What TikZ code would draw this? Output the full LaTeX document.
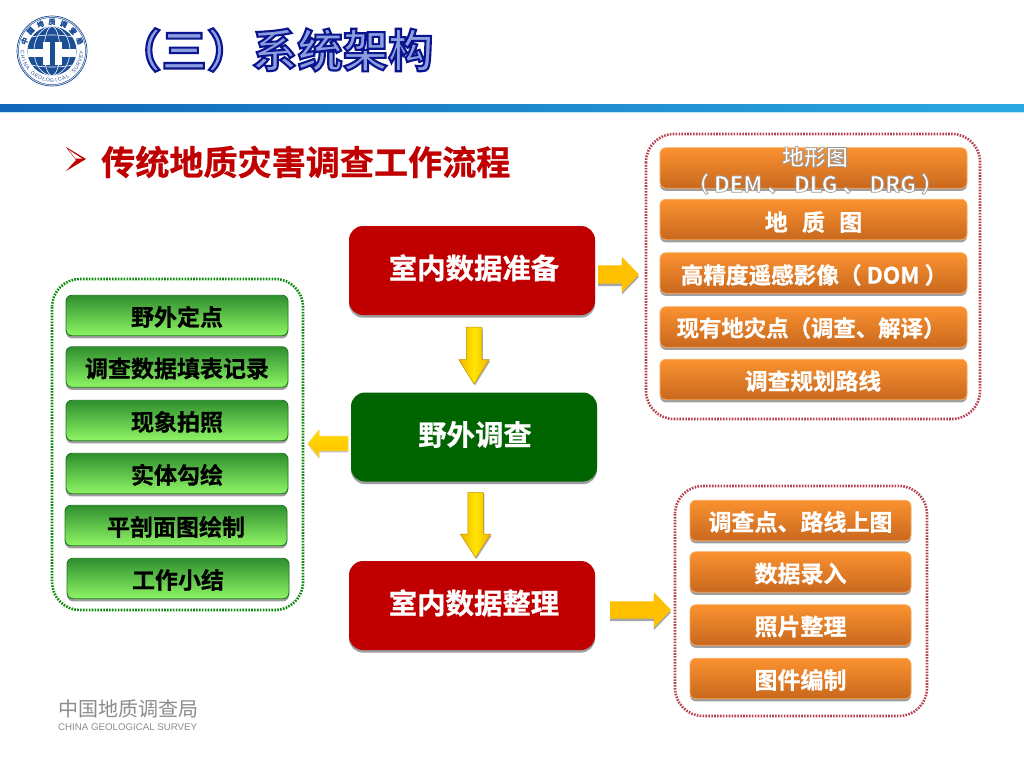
\documentclass[tikz,border=0pt]{standalone}
\usepackage{fontspec}
\setmainfont{Noto Sans CJK SC}[BoldFont={Noto Sans CJK SC Bold},BoldFeatures={FakeBold=0.7}]
\newfontfamily\titlefont{Noto Sans CJK SC Bold}
\newfontfamily\latinfont{Liberation Sans}
\usetikzlibrary{shapes.arrows,shadows,calc}
\definecolor{navy}{HTML}{0F1F96}
\definecolor{barl}{HTML}{1266B8}
\definecolor{barr}{HTML}{2BA9E0}
\definecolor{crimson}{HTML}{C00000}
\definecolor{forest}{HTML}{006400}
\definecolor{orangetop}{HTML}{FB9230}
\definecolor{orangebot}{HTML}{C8681E}
\definecolor{greentop}{HTML}{2F8F2F}
\definecolor{greenbot}{HTML}{8FF565}
\definecolor{greenline}{HTML}{1E7A1E}
\definecolor{dotred}{HTML}{B8404E}
\definecolor{dotgreen}{HTML}{0A8A0A}
\definecolor{amber}{HTML}{FFC000}
\definecolor{goldedge}{HTML}{F0B400}
\definecolor{goldmid}{HTML}{FFE600}
\definecolor{logoblue}{HTML}{1C4E96}
\definecolor{footgray}{HTML}{8C8C8C}
\tikzset{
  softshadow/.style={drop shadow={shadow xshift=0pt,shadow yshift=-2.6pt,fill=black,opacity=.38}},
  boxbase/.style={rounded corners=6pt,inner sep=0pt,outer sep=0pt,font=\fontsize{23}{27}\selectfont\bfseries,softshadow,text height=22pt,text depth=1.6pt},
  orangebox/.style={boxbase,top color=orangetop,bottom color=orangebot,draw=orangetop!80!white,line width=.8pt,text=white,minimum width=307pt,minimum height=40.5pt},
  lowbox/.style={orangebox,minimum width=221pt},
  greenbox/.style={boxbase,top color=greentop,bottom color=greenbot,draw=greenline,line width=.9pt,text=black,minimum width=222pt,minimum height=40.5pt},
  mainbox/.style={rounded corners=14pt,inner sep=0pt,outer sep=0pt,minimum width=246pt,minimum height=89pt,text=white,font=\fontsize{28.4}{32}\selectfont\bfseries,softshadow,text height=20pt,text depth=3.4pt},
  redbox/.style={mainbox,fill=crimson},
  darkgreenbox/.style={mainbox,fill=forest},
  dotframe/.style={rounded corners=28pt,line width=2.6pt,dash pattern=on 1.6pt off 1.3pt},
  blockarrow/.style n args={4}{single arrow,inner sep=0pt,outer sep=0pt,text width=#1pt,text height=#1pt,text depth=0pt,
     minimum height=#3pt,minimum width=#2pt,single arrow head extend={(#2-#1)/2*1pt},single arrow head indent=0pt,single arrow tip angle=#4,anchor=tail},
  flatarrow/.style={fill=amber,drop shadow={shadow xshift=0pt,shadow yshift=-2.4pt,fill=black,opacity=.35}},
  goldarrow/.style={left color=goldedge,right color=goldedge,middle color=goldmid,draw=goldedge!80!black,line width=.5pt,drop shadow={shadow xshift=1pt,shadow yshift=-1.5pt,fill=black,opacity=.3}},
  leftarrow/.style={top color=goldmid!70!amber,bottom color=amber,draw=amber!70!white,line width=.6pt,drop shadow={shadow xshift=0pt,shadow yshift=-1.5pt,fill=black,opacity=.25}},
}
\begin{document}
\begin{tikzpicture}[x=1pt,y=-1pt]
\useasboundingbox (0,0) rectangle (1024,768);
\fill[white] (0,0) rectangle (1024,768);

% logo
\fill[white] (52,51) circle (35);
\draw[logoblue,line width=.7pt] (52,51) circle (35);
\draw[logoblue,line width=.5pt] (52,51) circle (33.6);
\fill[logoblue] (52,51) circle (24.5);
\begin{scope}
\clip (52,51) circle (24.5);
\draw[white,line width=.6pt] (52,51) ellipse (18 and 24.5);
\draw[white,line width=.6pt] (52,51) ellipse (8 and 24.5);
\draw[white,line width=.6pt] (28,38) .. controls (40,34) and (64,34) .. (76,38);
\draw[white,line width=.6pt] (28,64) .. controls (40,68) and (64,68) .. (76,64);
\fill[white] (28,49) rectangle (77,57);
\fill[white] (43,42) rectangle (50,65);
\fill[white] (55,42) rectangle (62,65);
\fill[logoblue] (50,40) rectangle (55,66);
\end{scope}
\foreach \ch [count=\i] in {中,国,地,质,调,查,局}{
  \pgfmathsetmacro{\a}{160-(\i-1)*23.33}
  \node[logoblue,inner sep=0pt,font=\fontsize{7}{7}\selectfont\bfseries,rotate=\a-90] (logot\i) at ({52+29.3*cos(\a)},{51-29.3*sin(\a)}) {\ch};
}
\foreach \ch [count=\i] in {C,H,I,N,A,{},G,E,O,L,O,G,I,C,A,L,{},S,U,R,V,E,Y}{
  \pgfmathsetmacro{\a}{183+(\i-1)*7.9}
  \node[logoblue,inner sep=0pt,font=\latinfont\fontsize{5.2}{5.2}\selectfont,rotate=\a+90] (logob\i) at ({52+29.5*cos(\a)},{51-29.5*sin(\a)}) {\ch};
}

% title
\node[anchor=west,inner sep=0pt,text=navy,font=\titlefont\fontsize{45.3}{50}\selectfont] (title) at (116,50)
  {\special{pdf:code q 2 Tr 2.1 w 0.04 0.08 0.55 RG 0.55 0.62 0.88 rg}（三）系统架构\special{pdf:code Q}};

% header bar
\fill[left color=barl,right color=barr] (0,104) rectangle (1024,111.6);
\fill[barr!30!white] (0,111.6) rectangle (1024,112.6);

% heading
\fill[crimson] (66,147) -- (86,159) -- (66,171) -- (76,160) -- cycle;
\fill[white] (69,150) -- (82,158.5) -- (75.5,158.5) -- cycle;
\node[anchor=west,inner sep=0pt,text=crimson,font=\fontsize{34.1}{38}\selectfont\bfseries] (head) at (101,162) {传统地质灾害调查工作流程};

% frames
\draw[dotframe,draw=dotred] (646,134) rectangle (980,419);
\draw[dotframe,draw=dotred] (675,486) rectangle (927,716);
\draw[dotframe,draw=dotgreen] (52,279) rectangle (303,610);

% main boxes
\node[redbox] (prep) at (472,270.5) {\hspace*{4pt}室内数据准备};
\node[darkgreenbox] (field) at (474,437) {\hspace*{2pt}野外调查};
\node[redbox] (tidy) at (472,605.5) {\hspace*{4pt}室内数据整理};

% upper orange group
\node[orangebox] (o1) at (813.5,168) {};
\node[orangebox] (o2) at (813.5,219.5) {};
\node[orangebox] (o3) at (813.5,273) {};
\node[orangebox] (o4) at (813.5,327) {};
\node[orangebox] (o5) at (813.5,379.5) {};
\node[inner sep=0pt,text=white,align=center,font=\titlefont\fontsize{22}{27}\selectfont] (o1t) at (815,170.5)
  {\special{pdf:code q 2 Tr 0.7 w 0.62 0.6 0.58 RG 1 1 1 rg}地形图\\（ DEM 、 DLG 、 DRG ）\special{pdf:code Q}};
\node[inner sep=0pt,text=white,font=\fontsize{23}{27}\selectfont\bfseries] (o2t) at (813.5,222) {地 \, 质 \, 图};
\node[inner sep=0pt,text=white,font=\fontsize{22.6}{27}\selectfont\bfseries] (o3t) at (814,275) {高精度遥感影像（ DOM ）};
\node[inner sep=0pt,text=white,font=\fontsize{22.4}{27}\selectfont\bfseries] (o4t) at (811,328) {现有地灾点（调查、解译）};
\node[inner sep=0pt,text=white,font=\fontsize{22.7}{27}\selectfont\bfseries] (o5t) at (813,381) {调查规划路线};

% lower orange group
\node[lowbox] (l1) at (800.5,520.5) {调查点、路线上图};
\node[lowbox] (l2) at (800.5,572) {数据录入};
\node[lowbox] (l3) at (800.5,625) {照片整理};
\node[lowbox] (l4) at (800.5,678.5) {图件编制};

% green group
\node[greenbox] (g1) at (177,315.5) {野外定点};
\node[greenbox] (g2) at (177,367) {调查数据填表记录};
\node[greenbox] (g3) at (177,420.5) {现象拍照};
\node[greenbox] (g4) at (177,473.5) {实体勾绘};
\node[greenbox] (g5) at (176,525.5) {平剖面图绘制};
\node[greenbox] (g6) at (178,578.5) {工作小结};

% arrows
\node[blockarrow={18}{35}{41}{92},flatarrow] (a1) at ($(prep.east)+(3,4)$) {};
\node[blockarrow={15}{30}{57}{64},goldarrow,shape border rotate=270] (a2) at ($(prep.south)+(2,12)$) {};
\node[blockarrow={15}{30}{65}{66},goldarrow,shape border rotate=270] (a3) at ($(field.south)+(1.5,11)$) {};
\node[blockarrow={17}{35}{61}{92},flatarrow] (a4) at ($(tidy.east)+(15,4.5)$) {};
\node[blockarrow={14}{27}{40}{102},leftarrow,shape border rotate=180] (a5) at ($(field.west)+(-3,6.5)$) {};

% footer
\node[anchor=west,inner sep=0pt,text=footgray,font=\fontsize{20}{22}\selectfont] (footcn) at (58,709) {中国地质调查局};
\node[anchor=west,inner sep=0pt,text=footgray,font=\latinfont\fontsize{9.7}{11}\selectfont] (footen) at (58,727) {CHINA GEOLOGICAL SURVEY};
\end{tikzpicture}
\end{document}
